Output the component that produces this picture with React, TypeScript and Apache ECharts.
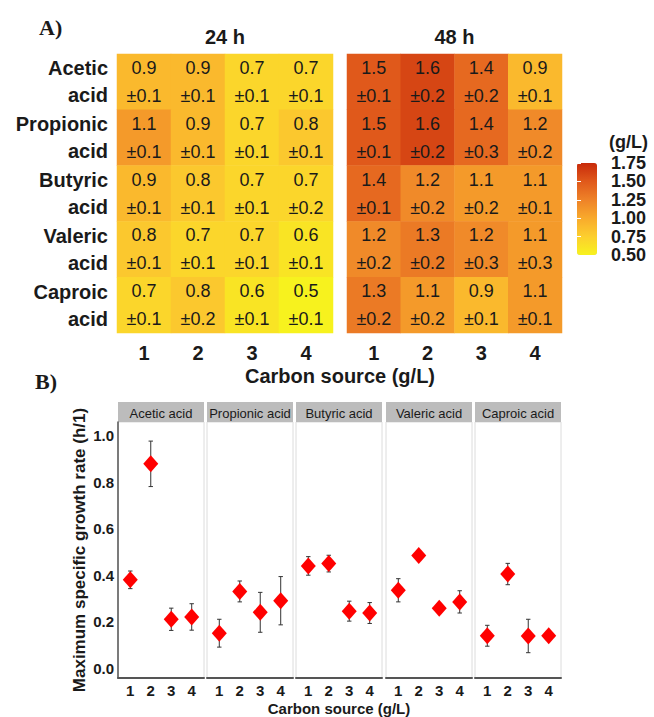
import React, { useEffect, useRef } from "react";
import * as echarts from "echarts";

// ---------- data ----------
const acids = ["Acetic acid", "Propionic acid", "Butyric acid", "Valeric acid", "Caproic acid"];
const carbonLevels = ["1", "2", "3", "4"];
const timePoints = ["24 h", "48 h"];

// Heatmap: biomass concentration (g/L), rows = acids, cols = carbon source level
const conc24Mean = [
  [0.9, 0.9, 0.7, 0.7],
  [1.1, 0.9, 0.7, 0.8],
  [0.9, 0.8, 0.7, 0.7],
  [0.8, 0.7, 0.7, 0.6],
  [0.7, 0.8, 0.6, 0.5],
];
const conc24Sd = [
  [0.1, 0.1, 0.1, 0.1],
  [0.1, 0.1, 0.1, 0.1],
  [0.1, 0.1, 0.1, 0.2],
  [0.1, 0.1, 0.1, 0.1],
  [0.1, 0.2, 0.1, 0.1],
];
const conc48Mean = [
  [1.5, 1.6, 1.4, 0.9],
  [1.5, 1.6, 1.4, 1.2],
  [1.4, 1.2, 1.1, 1.1],
  [1.2, 1.3, 1.2, 1.1],
  [1.3, 1.1, 0.9, 1.1],
];
const conc48Sd = [
  [0.1, 0.2, 0.2, 0.1],
  [0.1, 0.2, 0.3, 0.2],
  [0.1, 0.2, 0.2, 0.1],
  [0.2, 0.2, 0.3, 0.3],
  [0.2, 0.2, 0.1, 0.1],
];
const legendTicks = [0.5, 0.75, 1.0, 1.25, 1.5, 1.75];
const legendColors = ["#f7f21e", "#fccf2e", "#f8aa2c", "#ee8228", "#e0591b", "#c82a0a"];

// Growth rate (h^-1) mean and error per acid, carbon source 1..4
const carbonValues = [1, 2, 3, 4];
const aceticRate = [0.38, 0.88, 0.21, 0.22];
const aceticErr = [0.038, 0.098, 0.048, 0.057];
const propionicRate = [0.15, 0.33, 0.24, 0.29];
const propionicErr = [0.06, 0.045, 0.086, 0.104];
const butyricRate = [0.44, 0.45, 0.245, 0.237];
const butyricErr = [0.04, 0.036, 0.043, 0.045];
const valericRate = [0.335, 0.485, 0.257, 0.285];
const valericErr = [0.05, 0.015, 0.015, 0.048];
const caproicRate = [0.139, 0.405, 0.138, 0.139];
const caproicErr = [0.045, 0.046, 0.072, 0.012];
const rateTicks = [0, 0.2, 0.4, 0.6, 0.8, 1.0];

const rates = [aceticRate, propionicRate, butyricRate, valericRate, caproicRate];
const errs = [aceticErr, propionicErr, butyricErr, valericErr, caproicErr];

// ---------- layout ----------
const FONT = "Liberation Sans, Arial, sans-serif";
const heatGrids = [
  { left: 117, top: 54, width: 216, height: 279 },
  { left: 347, top: 54, width: 215, height: 279 },
];
const panelLefts = [118, 207, 296, 386, 475];
const panelWidth = 86;
const panelTop = 422;
const panelHeight = 256;
const stripTop = 402;
const stripHeight = 20;

function buildHeat(mean: number[][], sd: number[][]) {
  const out: number[][] = [];
  mean.forEach((row, r) =>
    row.forEach((v, c) => {
      out.push([c, r, v, sd[r][c]]);
    })
  );
  return out;
}

function buildOption() {
  const grid: any[] = [];
  const xAxis: any[] = [];
  const yAxis: any[] = [];
  const series: any[] = [];
  const graphic: any[] = [];

  // heatmap grids
  [conc24Mean, conc48Mean].forEach((mean, i) => {
    const sd = i === 0 ? conc24Sd : conc48Sd;
    grid.push({ ...heatGrids[i], show: false });
    xAxis.push({
      type: "category",
      gridIndex: i,
      data: carbonLevels,
      position: "bottom",
      axisLine: { show: false },
      axisTick: { show: false },
      splitLine: { show: false },
      axisLabel: { fontFamily: FONT, fontWeight: "bold", fontSize: 20, color: "#1a1a1a", margin: 10 },
    });
    yAxis.push({
      type: "category",
      gridIndex: i,
      data: acids,
      inverse: true,
      axisLine: { show: false },
      axisTick: { show: false },
      splitLine: { show: false },
      axisLabel: {
        show: i === 0,
        fontFamily: FONT,
        fontWeight: "bold",
        fontSize: 20,
        color: "#1a1a1a",
        margin: 9,
        lineHeight: 27,
        align: "right",
        formatter: (v: string) => v.replace(" ", "\n"),
      },
    });
    series.push({
      type: "heatmap",
      xAxisIndex: i,
      yAxisIndex: i,
      data: buildHeat(mean, sd),
      encode: { x: 0, y: 1, value: 2 },
      label: {
        show: true,
        fontFamily: FONT,
        fontSize: 18,
        color: "#1a1a1a",
        lineHeight: 28,
        formatter: (p: any) => `${p.data[2].toFixed(1)}\n±${p.data[3].toFixed(1)}`,
      },
      itemStyle: { borderWidth: 0 },
      emphasis: { disabled: true },
    });
    graphic.push({
      type: "text",
      x: heatGrids[i].left + heatGrids[i].width / 2,
      y: 37,
      style: {
        text: timePoints[i],
        font: `bold 20px ${FONT}`,
        fill: "#1a1a1a",
        textAlign: "center",
        textVerticalAlign: "middle",
      },
    });
  });

  // growth-rate panels
  acids.forEach((acid, k) => {
    const gi = grid.length;
    grid.push({
      left: panelLefts[k],
      top: panelTop,
      width: panelWidth,
      height: panelHeight,
      show: true,
      borderColor: "#dcdcdc",
      borderWidth: 1,
      backgroundColor: "#ffffff",
    });
    xAxis.push({
      type: "value",
      gridIndex: gi,
      min: 0.4,
      max: 4.6,
      axisLine: { show: true, onZero: false, lineStyle: { color: "#555555", width: 2 } },
      axisTick: { show: false },
      splitLine: { show: false },
      axisLabel: {
        customValues: carbonValues,
        fontFamily: FONT,
        fontWeight: "bold",
        fontSize: 15,
        color: "#1a1a1a",
        margin: 5,
        formatter: (v: number) => String(v),
      },
      name: k === 2 ? "Carbon source (g/L)" : "",
      nameLocation: "middle",
      nameGap: 23,
      nameTextStyle: { fontFamily: FONT, fontWeight: "bold", fontSize: 15, color: "#1a1a1a" },
    });
    yAxis.push({
      type: "value",
      gridIndex: gi,
      min: -0.0431,
      max: 1.0603,
      axisLine: { show: k === 0, onZero: false, lineStyle: { color: "#555555", width: 1.5 } },
      axisTick: { show: false },
      splitLine: { show: false },
      axisLabel: {
        show: k === 0,
        customValues: rateTicks,
        fontFamily: FONT,
        fontWeight: "bold",
        fontSize: 15,
        color: "#1a1a1a",
        margin: 4,
        formatter: (v: number) => v.toFixed(1),
      },
      name: k === 0 ? "Maximum specific growth rate (h/1)" : "",
      nameLocation: "middle",
      nameGap: 30,
      nameRotate: 90,
      nameTextStyle: { fontFamily: FONT, fontWeight: "bold", fontSize: 17, color: "#1a1a1a" },
    });
    const pts = carbonValues.map((c, j) => [c, rates[k][j], errs[k][j]]);
    series.push({
      type: "custom",
      xAxisIndex: gi,
      yAxisIndex: gi,
      data: pts,
      encode: { x: 0, y: 1 },
      z: 2,
      silent: true,
      renderItem: (params: any, api: any) => {
        const x = api.value(0);
        const y = api.value(1);
        const e = api.value(2);
        const top = api.coord([x, y + e]);
        const bot = api.coord([x, y - e]);
        const cw = 2.2;
        const st = { stroke: "#333333", lineWidth: 1 };
        return {
          type: "group",
          children: [
            { type: "line", shape: { x1: top[0], y1: top[1], x2: bot[0], y2: bot[1] }, style: st },
            { type: "line", shape: { x1: top[0] - cw, y1: top[1], x2: top[0] + cw, y2: top[1] }, style: st },
            { type: "line", shape: { x1: bot[0] - cw, y1: bot[1], x2: bot[0] + cw, y2: bot[1] }, style: st },
          ],
        };
      },
    });
    series.push({
      type: "scatter",
      xAxisIndex: gi,
      yAxisIndex: gi,
      data: pts.map((p) => [p[0], p[1]]),
      symbol: "diamond",
      symbolSize: [15, 17],
      itemStyle: { color: "#ff0000", opacity: 1 },
      z: 3,
      silent: true,
    });
    graphic.push({
      type: "rect",
      shape: { x: panelLefts[k], y: stripTop, width: panelWidth, height: stripHeight },
      style: { fill: "#bcbcbc" },
    });
    graphic.push({
      type: "text",
      x: panelLefts[k] + panelWidth / 2,
      y: stripTop + stripHeight / 2 + 1,
      style: {
        text: acid,
        font: `13px ${FONT}`,
        fill: "#1a1a1a",
        textAlign: "center",
        textVerticalAlign: "middle",
      },
    });
  });

  // colorbar axis grid
  const cg = grid.length;
  grid.push({ left: 577, top: 163, width: 20, height: 92, show: false });
  xAxis.push({ type: "value", gridIndex: cg, show: false, min: 0, max: 1 });
  const lMin = legendTicks[0];
  const lMax = legendTicks[legendTicks.length - 1];
  const lStep = legendTicks[1] - legendTicks[0];
  yAxis.push({
    type: "value",
    gridIndex: cg,
    position: "right",
    min: lMin,
    max: lMax,
    interval: lStep,
    axisLine: { show: false },
    axisTick: { show: true, inside: true, length: 4, lineStyle: { color: "#ffffff", width: 1 } },
    splitLine: { show: false },
    axisLabel: {
      showMinLabel: true,
      showMaxLabel: true,
      hideOverlap: false,
      fontFamily: FONT,
      fontWeight: "bold",
      fontSize: 18,
      lineHeight: 18,
      color: "#1a1a1a",
      margin: 14,
      formatter: (v: number) => v.toFixed(2),
    },
    z: 10,
  });
  yAxis.push({
    type: "value",
    gridIndex: cg,
    position: "left",
    min: lMin,
    max: lMax,
    interval: lStep,
    axisLine: { show: false },
    axisTick: { show: true, inside: true, length: 4, lineStyle: { color: "#ffffff", width: 1 } },
    splitLine: { show: false },
    axisLabel: { show: false },
    z: 10,
  });
  series.push({ type: "line", xAxisIndex: cg, yAxisIndex: yAxis.length - 2, data: [], silent: true });
  series.push({ type: "line", xAxisIndex: cg, yAxisIndex: yAxis.length - 1, data: [], silent: true });

  graphic.push(
    {
      type: "text",
      x: 609,
      y: 142,
      style: { text: "(g/L)", font: `bold 18px ${FONT}`, fill: "#1a1a1a", textAlign: "left", textVerticalAlign: "middle" },
    },
    {
      type: "text",
      x: 340,
      y: 376,
      style: {
        text: "Carbon source (g/L)",
        font: `bold 20px ${FONT}`,
        fill: "#1a1a1a",
        textAlign: "center",
        textVerticalAlign: "middle",
      },
    },
    {
      type: "text",
      x: 39,
      y: 27,
      style: { text: "A)", font: `bold 22px "Liberation Serif", serif`, fill: "#1a1a1a", textAlign: "left", textVerticalAlign: "middle" },
    },
    {
      type: "text",
      x: 35,
      y: 381,
      style: { text: "B)", font: `bold 22px "Liberation Serif", serif`, fill: "#1a1a1a", textAlign: "left", textVerticalAlign: "middle" },
    }
  );

  return {
    animation: false,
    backgroundColor: "#ffffff",
    grid,
    xAxis,
    yAxis,
    visualMap: {
      type: "continuous",
      seriesIndex: [0, 1],
      dimension: 2,
      min: lMin,
      max: lMax,
      show: true,
      calculable: false,
      hoverLink: false,
      left: 577,
      top: 163,
      padding: 0,
      itemWidth: 20,
      itemHeight: 92,
      text: null,
      inRange: { color: legendColors },
    },
    series,
    graphic,
  };
}

export default function App() {
  const ref = useRef<HTMLDivElement>(null);
  useEffect(() => {
    if (!ref.current) return;
    const chart = echarts.init(ref.current, null, { renderer: "svg" });
    chart.setOption(buildOption() as any);
    return () => chart.dispose();
  }, []);
  return (
    <div
      ref={ref}
      style={{ position: "absolute", left: 0, top: 0, width: 654, height: 717, background: "#ffffff" }}
    />
  );
}
